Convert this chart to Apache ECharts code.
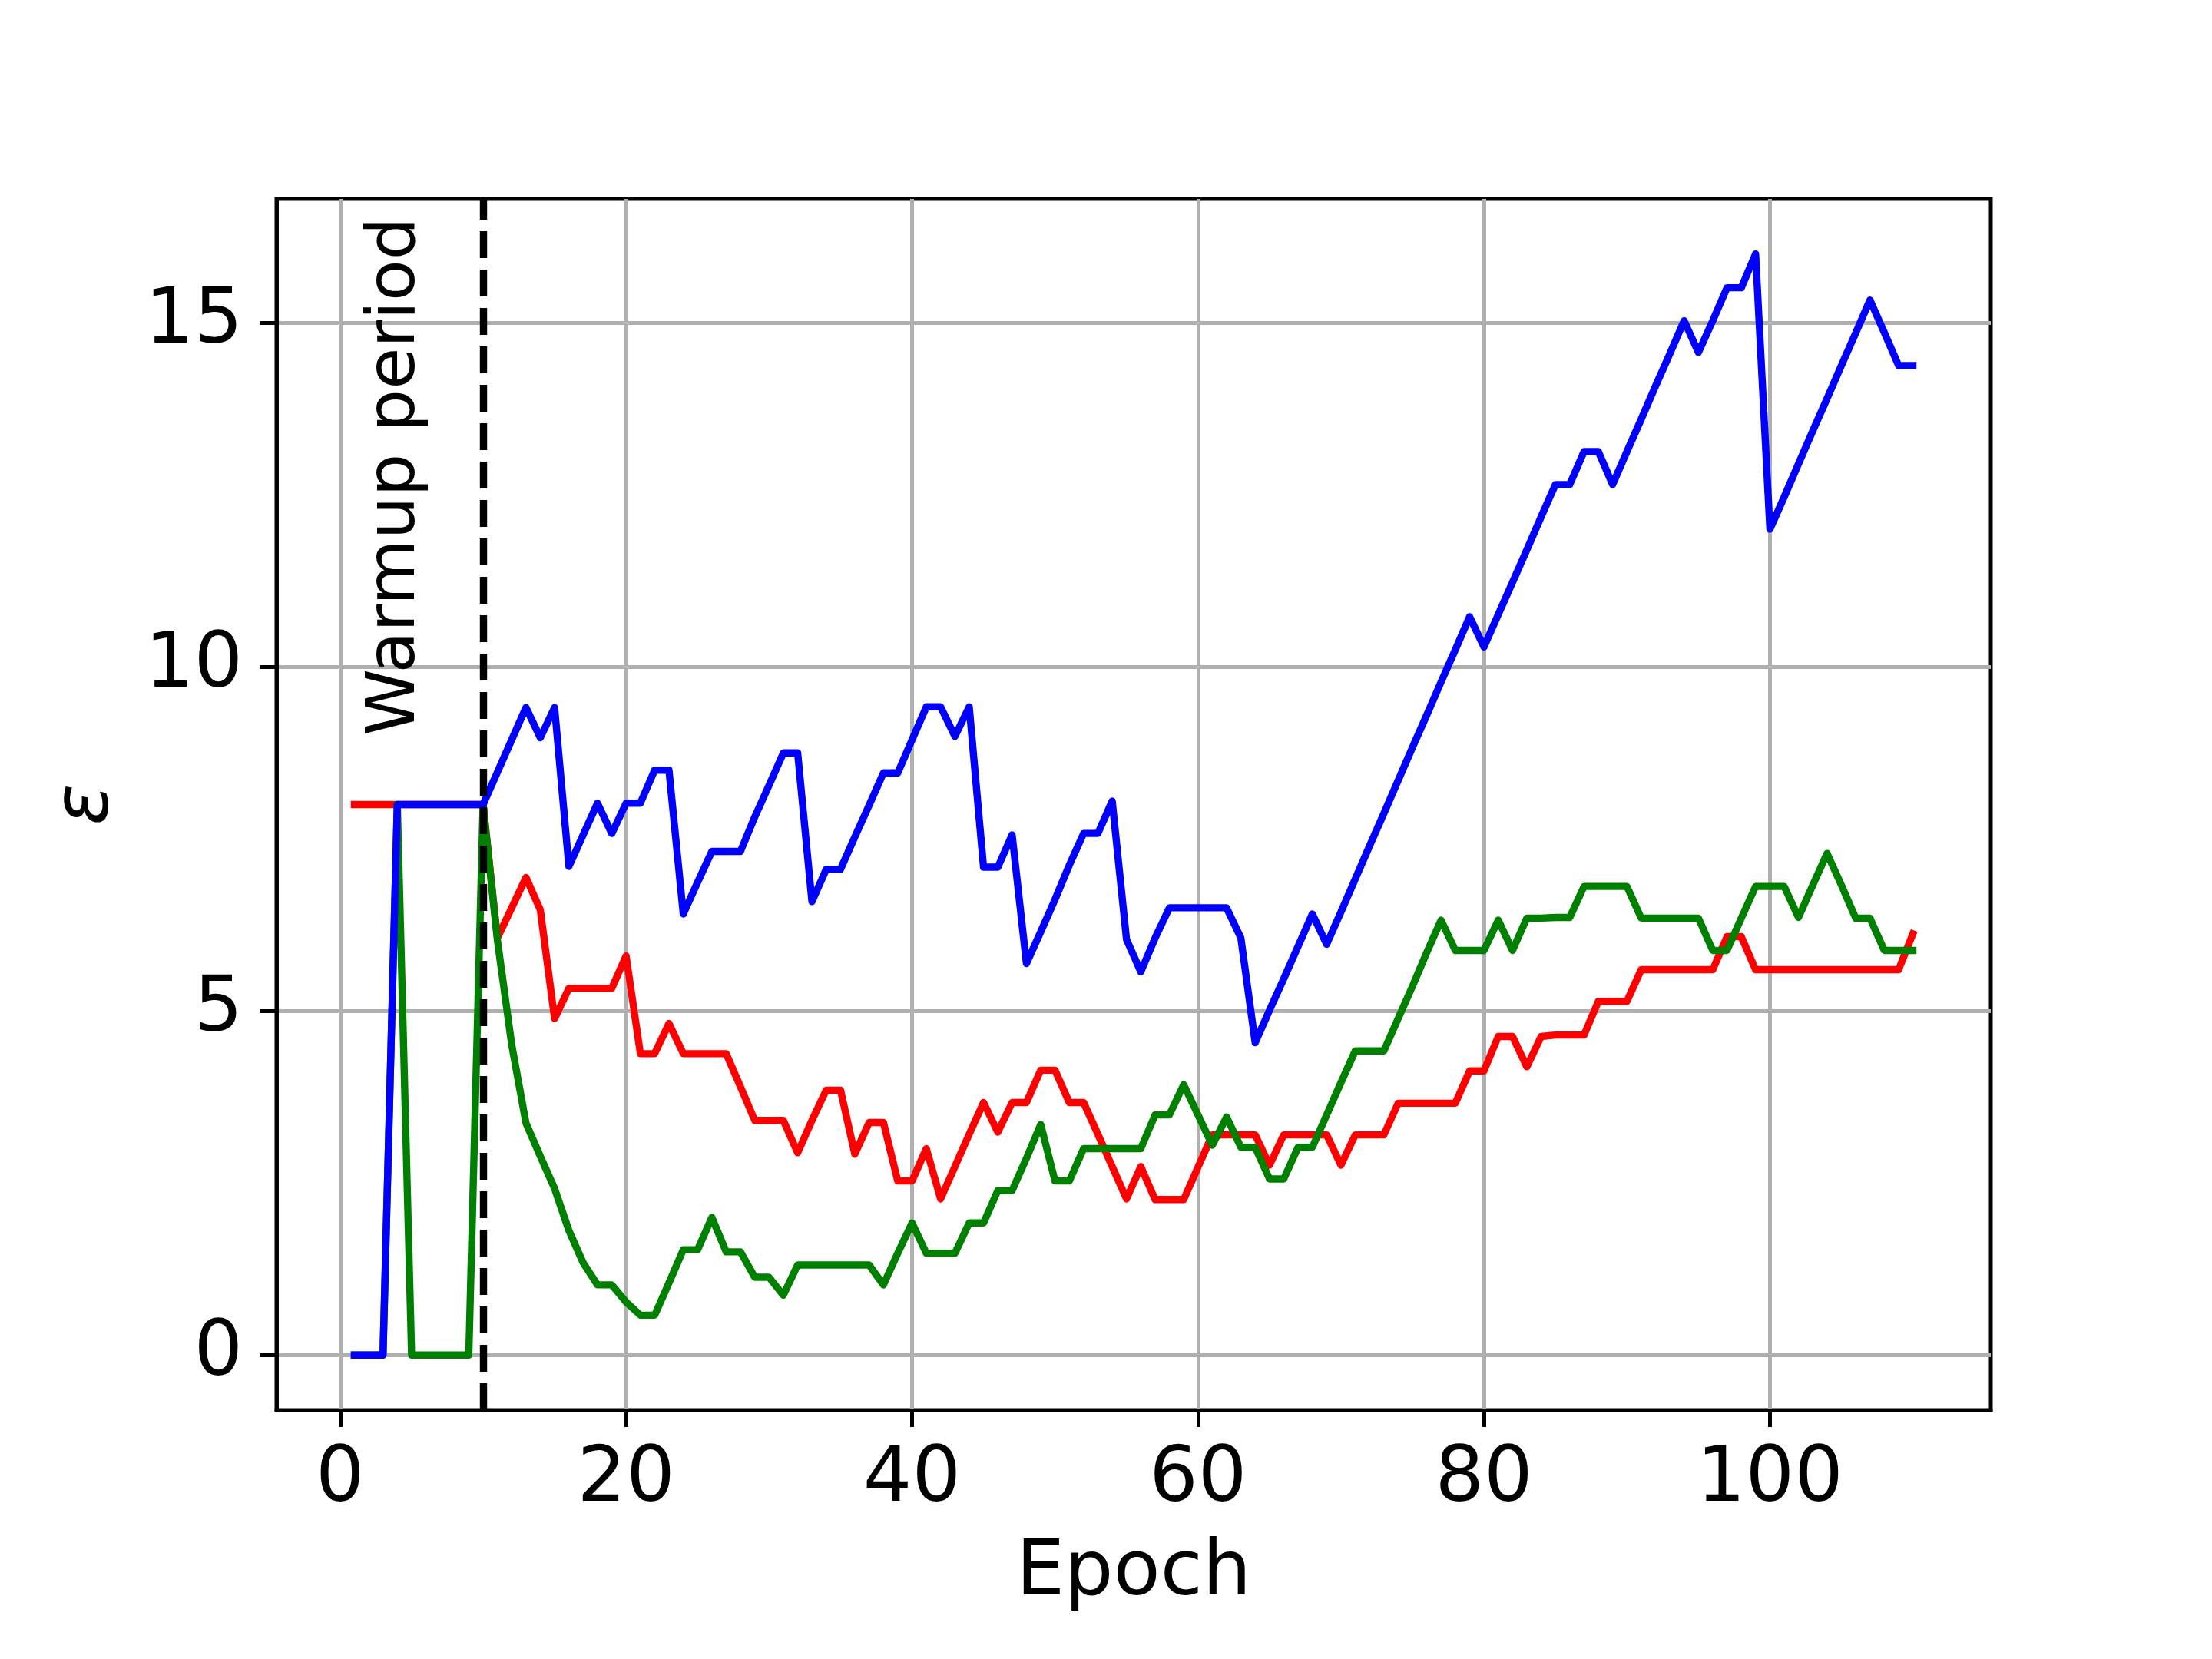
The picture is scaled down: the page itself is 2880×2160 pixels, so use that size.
<!DOCTYPE html>
<html>
<head>
<meta charset="utf-8">
<script src="https://cdn.jsdelivr.net/npm/echarts@6/dist/echarts.min.js"></script>
<style>
  html, body { margin: 0; padding: 0; background: #fff; }
  #chart { width: 2880px; height: 2160px; }
</style>
</head>
<body>
<div id="chart"></div>
<script>
// epochs 1..110
const epochs = Array.from({ length: 110 }, (_, i) => i + 1)

const redValues = [
  8, 8, 8, 8, 8, 8, 8, 8, 8, 8,
  6.06, 6.50, 6.94, 6.47, 4.89, 5.33, 5.33, 5.33, 5.33, 5.80,
  4.38, 4.38, 4.82, 4.38, 4.38, 4.38, 4.38, 3.90, 3.41, 3.41,
  3.41, 2.94, 3.41, 3.85, 3.85, 2.92, 3.38, 3.38, 2.53, 2.53,
  3.00, 2.27, 2.74, 3.21, 3.67, 3.24, 3.67, 3.67, 4.14, 4.14,
  3.67, 3.67, 3.21, 2.74, 2.27, 2.74, 2.26, 2.26, 2.26, 2.73,
  3.20, 3.20, 3.20, 3.20, 2.76, 3.20, 3.20, 3.20, 3.20, 2.76,
  3.20, 3.20, 3.20, 3.66, 3.66, 3.66, 3.66, 3.66, 4.13, 4.13,
  4.63, 4.63, 4.19, 4.63, 4.65, 4.65, 4.65, 5.14, 5.14, 5.14,
  5.60, 5.60, 5.60, 5.60, 5.60, 5.60, 6.08, 6.08, 5.60, 5.60,
  5.60, 5.60, 5.60, 5.60, 5.60, 5.60, 5.60, 5.60, 5.60, 6.12,
]

const greenValues = [
  0, 0, 0, 8, 0, 0, 0, 0, 0, 8,
  6.03, 4.51, 3.37, 2.89, 2.42, 1.81, 1.34, 1.02, 1.02, 0.77,
  0.58, 0.58, 1.05, 1.53, 1.53, 2.00, 1.50, 1.50, 1.13, 1.13,
  0.87, 1.31, 1.31, 1.31, 1.31, 1.31, 1.31, 1.02, 1.48, 1.92,
  1.48, 1.48, 1.48, 1.92, 1.92, 2.39, 2.39, 2.86, 3.35, 2.53,
  2.53, 3.00, 3.00, 3.00, 3.00, 3.00, 3.49, 3.49, 3.93, 3.49,
  3.05, 3.46, 3.02, 3.02, 2.56, 2.56, 3.02, 3.02, 3.49, 3.96,
  4.42, 4.42, 4.42, 4.89, 5.36, 5.85, 6.32, 5.88, 5.88, 5.88,
  6.32, 5.88, 6.35, 6.35, 6.36, 6.36, 6.81, 6.81, 6.81, 6.81,
  6.35, 6.35, 6.35, 6.35, 6.35, 5.88, 5.88, 6.35, 6.81, 6.81,
  6.81, 6.36, 6.83, 7.29, 6.83, 6.35, 6.35, 5.88, 5.88, 5.88,
]

const blueValues = [
  0, 0, 0, 8, 8, 8, 8, 8, 8, 8,
  8.47, 8.94, 9.41, 8.97, 9.41, 7.10, 7.56, 8.02, 7.58, 8.02,
  8.02, 8.50, 8.50, 6.41, 6.87, 7.32, 7.32, 7.32, 7.82, 8.28,
  8.75, 8.75, 6.59, 7.06, 7.06, 7.53, 7.99, 8.46, 8.46, 8.94,
  9.42, 9.42, 8.99, 9.42, 7.09, 7.09, 7.56, 5.69, 6.15, 6.62,
  7.12, 7.58, 7.58, 8.05, 6.04, 5.57, 6.06, 6.50, 6.50, 6.50,
  6.50, 6.50, 6.06, 4.54, 5.01, 5.47, 5.94, 6.41, 5.97, 6.44,
  6.92, 7.40, 7.87, 8.35, 8.83, 9.30, 9.78, 10.25, 10.73, 10.29,
  10.76, 11.23, 11.70, 12.18, 12.65, 12.65, 13.13, 13.13, 12.65, 13.13,
  13.60, 14.08, 14.55, 15.03, 14.57, 15.03, 15.51, 15.51, 16.00, 12.00,
  12.47, 12.95, 13.43, 13.90, 14.38, 14.85, 15.33, 14.86, 14.38, 14.38,
]

const xTicks = [0, 20, 40, 60, 80, 100]
const yTicks = [0, 5, 10, 15]
const warmupEnd = 10

const font = 'DejaVu Sans'
const lw = 9.4

function lineSeries(name, values, color) {
  return {
    name,
    type: 'line',
    data: epochs.map((e, i) => [e, values[i]]),
    showSymbol: false,
    symbol: 'none',
    silent: true,
    lineStyle: { color, width: lw, join: 'round', cap: 'square' },
  }
}

const chart = echarts.init(document.getElementById('chart'))

const blue = lineSeries('blue', blueValues, '#0000ff')
blue.markLine = {
  z: 10,
  silent: true,
  symbol: 'none',
  label: { show: false },
  lineStyle: { color: '#000', width: lw, type: [35, 15], cap: 'butt' },
  data: [{ xAxis: warmupEnd }],
}

chart.setOption({
  animation: false,
  backgroundColor: '#fff',
  grid: {
    left: 360,
    top: 259,
    width: 2232,
    height: 1577,
    show: true,
    borderColor: '#000',
    borderWidth: 5,
    backgroundColor: 'transparent',
  },
  xAxis: {
    type: 'value',
    min: -4.45,
    max: 115.45,
    name: 'Epoch',
    nameLocation: 'middle',
    nameGap: 164,
    nameTextStyle: { fontFamily: font, fontSize: 100, color: '#000' },
    axisLine: { show: true, onZero: false, lineStyle: { color: '#000', width: 5 } },
    axisTick: { show: true, length: 22, customValues: xTicks, lineStyle: { color: '#000', width: 5 } },
    axisLabel: { customValues: xTicks, margin: 42, fontFamily: font, fontSize: 100, color: '#000' },
    splitLine: { show: true, lineStyle: { color: '#b0b0b0', width: 5 } },
  },
  yAxis: {
    type: 'value',
    min: -0.8,
    max: 16.8,
    name: 'ε',
    nameLocation: 'middle',
    nameRotate: 90,
    nameGap: 196,
    nameTextStyle: { fontFamily: font, fontSize: 100, fontStyle: 'italic', color: '#000' },
    axisLine: { show: true, onZero: false, lineStyle: { color: '#000', width: 5 } },
    axisTick: { show: true, length: 22, customValues: yTicks, lineStyle: { color: '#000', width: 5 } },
    axisLabel: { customValues: yTicks, margin: 44, fontFamily: font, fontSize: 100, color: '#000' },
    splitLine: { show: true, lineStyle: { color: '#b0b0b0', width: 5 } },
  },
  graphic: [
    {
      type: 'text',
      x: 516,
      y: 958,
      rotation: Math.PI / 2,
      z: 20,
      silent: true,
      style: {
        text: 'Warmup period',
        font: '88px "DejaVu Sans"',
        fill: '#000',
        align: 'left',
        verticalAlign: 'middle',
      },
    },
  ],
  series: [
    lineSeries('red', redValues, '#ff0000'),
    lineSeries('green', greenValues, '#008000'),
    blue,
  ],
})
</script>
</body>
</html>
